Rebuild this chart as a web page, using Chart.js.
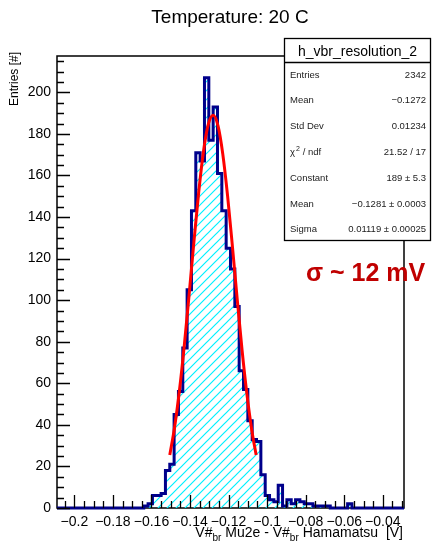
<!DOCTYPE html>
<html>
<head>
<meta charset="utf-8">
<script src="https://cdn.jsdelivr.net/npm/chart.js@4.4.1/dist/chart.umd.min.js"></script>
<style>
  html, body { margin: 0; padding: 0; background: #fff; }
  #wrap { width: 434px; height: 547px; }
</style>
</head>
<body>
<div id="wrap"><canvas id="histo" width="434" height="547"></canvas></div>
<script>
// histogram h_vbr_resolution_2 : 80 bins
const histTitle = "Temperature: 20 C";
const xLow = -0.209;
const xHigh = -0.029;
const binWidth = 0.00225;
const binCounts = [
  0, 0, 0, 0, 0, 0, 0, 0, 0, 0,
  0, 0, 0, 0, 0, 0, 0, 0, 0, 0,
  1, 2, 6, 6, 7, 18, 21, 45, 56, 77,
  105, 143, 171, 167, 207, 177, 193, 161, 143, 125,
  115, 97, 66, 57, 42, 33, 32, 16, 6, 4,
  3, 11, 1, 4, 2, 4, 3, 2, 2, 1,
  1, 1, 1, 0, 0, 0, 0, 2, 0, 0,
  0, 0, 0, 0, 0, 0, 0, 0, 0, 0
];
// gaus fit
const fitX = [-0.1505, -0.148, -0.1455, -0.143, -0.1405, -0.138, -0.1355, -0.133, -0.1305, -0.128,
              -0.1255, -0.123, -0.1205, -0.118, -0.1155, -0.113, -0.1105, -0.108, -0.1057];
const fitY = [25.5, 38.9, 56.4, 77.9, 102.3, 127.8, 151.9, 171.7, 184.7, 189,
              184, 170.3, 150.1, 125.8, 100.3, 76, 54.9, 37.7, 25.5];
const yMax = 217.5;
const xTickValues = [-0.2, -0.18, -0.16, -0.14, -0.12, -0.1, -0.08, -0.06, -0.04];
const yTickValues = [0, 20, 40, 60, 80, 100, 120, 140, 160, 180, 200];
const yTitle = "Entries [#]";
const xTitleParts = [["V#", false], ["br", true], [" Mu2e - V#", false], ["br", true], [" Hamamatsu  [V]", false]];
const statsName = "h_vbr_resolution_2";
const statsLabels = ["Entries", "Mean", "Std Dev", "χ2 / ndf", "Constant", "Mean", "Sigma"];
const statsValues = ["2342", "\u22120.1272", "0.01234", "21.52 / 17", "189 \u00b1 5.3", "\u22120.1281 \u00b1 0.0003", "0.01119 \u00b1 0.00025"];
const noteText = "σ ~ 12 mV";

const FONT = "'Liberation Sans', Arial, sans-serif";

function makeHatch() {
  const s = 9;
  const c = document.createElement("canvas");
  c.width = s; c.height = s;
  const g = c.getContext("2d");
  g.strokeStyle = "#00f0ff";
  g.lineWidth = 1.2;
  g.beginPath();
  g.moveTo(0, s); g.lineTo(s, 0);
  g.moveTo(-1, 1); g.lineTo(1, -1);
  g.moveTo(s - 1, s + 1); g.lineTo(s + 1, s - 1);
  g.stroke();
  return g.createPattern(c, "repeat");
}

const histPoints = binCounts.map((c, k) => ({ x: xLow + k * binWidth, y: c }));
histPoints.push({ x: xLow + binCounts.length * binWidth, y: 0 });
const fitPoints = fitX.map((x, i) => ({ x: x, y: fitY[i] }));

const fmtX = (v) => (v < 0 ? "\u2212" : "") + String(Math.abs(Math.round(v * 100) / 100));

const rootStyle = {
  id: "rootStyle",
  beforeDatasetsDraw(chart) {
    const { ctx, chartArea: a } = chart;
    ctx.save();
    ctx.strokeStyle = "#000";
    ctx.lineWidth = 1.5;
    ctx.strokeRect(a.left, a.top, a.right - a.left, a.bottom - a.top);
    ctx.restore();
  },
  afterDatasetsDraw(chart) {
    const { ctx, chartArea: a, scales } = chart;
    const xs = scales.x, ys = scales.y;
    ctx.save();
    ctx.strokeStyle = "#000";
    ctx.lineWidth = 1.3;
    ctx.beginPath();
    for (let i = Math.ceil(xLow / 0.005); i <= Math.floor(xHigh / 0.005); i++) {
      const px = Math.round(xs.getPixelForValue(i * 0.005)) + 0.5;
      const len = i % 4 === 0 ? 13 : 7;
      ctx.moveTo(px, a.bottom);
      ctx.lineTo(px, a.bottom - len);
    }
    for (let i = 0; i * 5 <= yMax; i++) {
      const py = Math.round(ys.getPixelForValue(i * 5)) + 0.5;
      const len = i % 4 === 0 ? 13 : 7;
      ctx.moveTo(a.left, py);
      ctx.lineTo(a.left + len, py);
    }
    ctx.stroke();
    ctx.restore();
  },
  afterDraw(chart) {
    const { ctx } = chart;
    ctx.save();
    ctx.fillStyle = "#000";

    // title
    ctx.font = "19px " + FONT;
    ctx.textAlign = "center";
    ctx.textBaseline = "alphabetic";
    ctx.fillText(histTitle, 230, 23);

    // y title
    ctx.save();
    ctx.font = "12px " + FONT;
    ctx.translate(18, 52);
    ctx.rotate(-Math.PI / 2);
    ctx.textAlign = "right";
    ctx.fillText(yTitle, 0, 0);
    ctx.restore();

    // x title with subscripts
    let w = 0;
    xTitleParts.forEach(([t, sub]) => {
      ctx.font = (sub ? "10px " : "14px ") + FONT;
      w += ctx.measureText(t).width;
    });
    let x = 403 - w;
    ctx.textAlign = "left";
    xTitleParts.forEach(([t, sub]) => {
      ctx.font = (sub ? "10px " : "14px ") + FONT;
      ctx.fillText(t, x, sub ? 541 : 537);
      x += ctx.measureText(t).width;
    });

    // stats box
    const bx = 284.5, by = 38.5, bw = 146, bh = 202;
    ctx.fillStyle = "#fff";
    ctx.fillRect(bx, by, bw, bh);
    ctx.strokeStyle = "#000";
    ctx.lineWidth = 1.3;
    ctx.strokeRect(bx, by, bw, bh);
    ctx.beginPath();
    ctx.moveTo(bx, 62.5);
    ctx.lineTo(bx + bw, 62.5);
    ctx.stroke();
    ctx.fillStyle = "#000";
    ctx.font = "14px " + FONT;
    ctx.textAlign = "center";
    ctx.fillText(statsName, bx + bw / 2, 56);
    ctx.font = "9.5px " + FONT;
    ctx.fillStyle = "#222";
    statsLabels.forEach((lab, i) => {
      const yy = 77.5 + i * 25.8;
      ctx.textAlign = "left";
      if (lab.startsWith("χ2")) {
        ctx.fillText("χ", 290, yy);
        ctx.font = "7px " + FONT;
        ctx.fillText("2", 296, yy - 4);
        ctx.font = "9.5px " + FONT;
        ctx.fillText(lab.slice(2), 300, yy);
      } else {
        ctx.fillText(lab, 290, yy);
      }
      ctx.textAlign = "right";
      ctx.fillText(statsValues[i], 426, yy);
    });

    // annotation
    ctx.fillStyle = "#c00000";
    ctx.font = "bold 25px " + FONT;
    ctx.textAlign = "left";
    ctx.fillText(noteText, 306, 281);
    ctx.restore();
  }
};

const canvas = document.getElementById("histo");
const hatch = makeHatch();

new Chart(canvas, {
  type: "line",
  data: {
    datasets: [
      {
        label: "fit",
        data: fitPoints,
        borderColor: "#ff0000",
        borderWidth: 3,
        pointRadius: 0,
        fill: false,
        cubicInterpolationMode: "monotone",
        order: 0,
      },
      {
        label: statsName,
        data: histPoints,
        stepped: true,
        borderColor: "#00008b",
        borderWidth: 3,
        backgroundColor: hatch,
        fill: "origin",
        pointRadius: 0,
        clip: 3,
        order: 1,
      },
    ],
  },
  options: {
    responsive: false,
    devicePixelRatio: 1,
    animation: false,
    layout: { padding: { top: 56, right: 30, left: 0, bottom: 0 } },
    plugins: { legend: { display: false }, tooltip: { enabled: false }, title: { display: false } },
    scales: {
      x: {
        type: "linear",
        min: xLow,
        max: xHigh,
        grid: { display: false, drawTicks: false },
        border: { display: false },
        afterBuildTicks: (s) => { s.ticks = xTickValues.map((v) => ({ value: v })); },
        afterFit: (s) => { s.height = 39; },
        ticks: {
          padding: 6,
          maxRotation: 0,
          autoSkip: false,
          color: "#000",
          font: { family: FONT, size: 14 },
          callback: (v) => fmtX(v),
        },
      },
      y: {
        type: "linear",
        min: 0,
        max: yMax,
        grid: { display: false, drawTicks: false },
        border: { display: false },
        afterBuildTicks: (s) => { s.ticks = yTickValues.map((v) => ({ value: v })); },
        afterFit: (s) => { s.width = 57; },
        ticks: {
          padding: 6,
          color: "#000",
          font: { family: FONT, size: 14 },
        },
      },
    },
  },
  plugins: [rootStyle],
});
</script>
</body>
</html>
